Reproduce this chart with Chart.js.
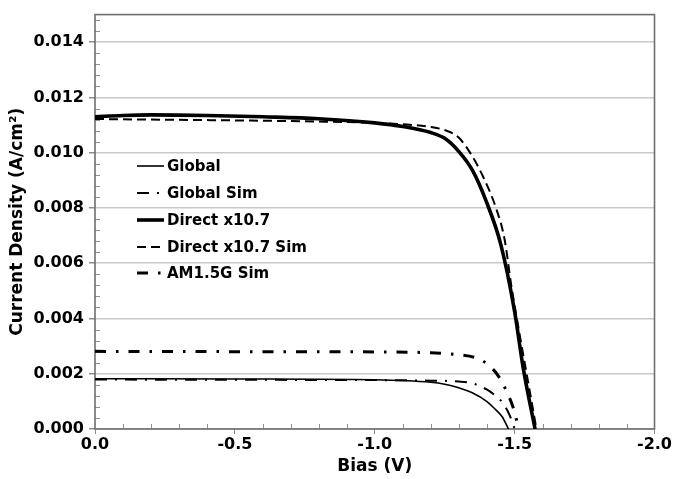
<!DOCTYPE html>
<html><head><meta charset="utf-8">
<script src="https://cdn.jsdelivr.net/npm/chart.js@4/dist/chart.umd.min.js"></script>
<style>html,body{margin:0;padding:0;background:#fff}#wrap{width:673px;height:479px}</style>
</head><body><div id="wrap"><canvas id="c" width="673" height="479"></canvas></div>
<script>
// ---- data ----
const seriesLabels = ['Global', 'Global Sim', 'Direct x10.7', 'Direct x10.7 Sim', 'AM1.5G Sim'];

const globalV = [0, -0.5, -1.0, -1.2, -1.25, -1.3, -1.35, -1.4, -1.43, -1.455, -1.478];
const globalJ = [0.00182, 0.00181, 0.00178, 0.00169, 0.00162, 0.00149, 0.00130, 0.00100, 0.00072, 0.00045, 0.0];

const globalSimV = [0, -0.5, -1.0, -1.2, -1.3, -1.35, -1.4, -1.43, -1.455, -1.475, -1.49, -1.5];
const globalSimJ = [0.00179, 0.00178, 0.00177, 0.00175, 0.00172, 0.00165, 0.00143, 0.00122, 0.00098, 0.00065, 0.00030, 0.0];

const directV = [0, -0.1, -0.2, -0.4, -0.6, -0.8, -1.0, -1.1, -1.2, -1.25, -1.3, -1.35, -1.4, -1.45, -1.5, -1.53, -1.573];
const directJ = [0.01130, 0.01135, 0.01137, 0.01135, 0.01130, 0.01123, 0.01108, 0.01095, 0.01073, 0.01052, 0.01005, 0.00935, 0.00820, 0.00670, 0.00425, 0.00225, 0.0];

const directSimV = [0, -0.2, -0.5, -0.8, -1.0, -1.1, -1.2, -1.256, -1.3, -1.339, -1.387, -1.435, -1.464, -1.488, -1.52, -1.55, -1.578];
const directSimJ = [0.01122, 0.01120, 0.01117, 0.01113, 0.01108, 0.01103, 0.01093, 0.01080, 0.01055, 0.01003, 0.00914, 0.00795, 0.00687, 0.00520, 0.00330, 0.00160, 0.0];

const am15V = [0, -0.5, -1.0, -1.2, -1.29, -1.36, -1.41, -1.445, -1.475, -1.494, -1.515];
const am15J = [0.00281, 0.00280, 0.00279, 0.00276, 0.00270, 0.00258, 0.00229, 0.00187, 0.00128, 0.00080, 0.0];

const xTicks = [0, -0.5, -1.0, -1.5, -2.0];
const xTickLabels = ['0.0', '-0.5', '-1.0', '-1.5', '-2.0'];
const yTicks = [0, 0.002, 0.004, 0.006, 0.008, 0.010, 0.012, 0.014];
const yTickLabels = ['0.000', '0.002', '0.004', '0.006', '0.008', '0.010', '0.012', '0.014'];

// ---- build ----
const pts = (V, J) => V.map((v, i) => ({x: v, y: J[i]}));
const FONT = '"DejaVu Sans", Verdana, sans-serif';

const styles = [
  {w: 1.6, dash: []},
  {w: 2, dash: [12, 8, 2, 8]},
  {w: 3.6, dash: []},
  {w: 2, dash: [9, 5]},
  {w: 3, dash: [11, 10, 2.5, 10]}
];
const seriesData = [pts(globalV, globalJ), pts(globalSimV, globalSimJ), pts(directV, directJ), pts(directSimV, directSimJ), pts(am15V, am15J)];

const datasets = seriesLabels.map((lab, i) => ({
  label: lab,
  data: seriesData[i],
  borderColor: '#000',
  backgroundColor: '#000',
  borderWidth: styles[i].w,
  borderDash: styles[i].dash,
  pointRadius: 0,
  fill: false,
  cubicInterpolationMode: 'monotone'
}));

const decor = {
  id: 'decor',
  beforeDatasetsDraw(chart) {
    const {ctx, chartArea: a, scales: {x, y}} = chart;
    ctx.save();
    ctx.strokeStyle = '#8c8c8c';
    ctx.lineWidth = 1;
    ctx.beginPath();
    for (let k = 1; k < 20; k++) {
      if (k % 5 === 0) continue;
      const px = Math.round(x.getPixelForValue(-k / 10)) + 0.5;
      ctx.moveTo(px, a.bottom); ctx.lineTo(px, a.bottom - 5);
    }
    for (let k = 1; k < 38; k++) {
      if (k % 5 === 0) continue;
      const py = Math.round(y.getPixelForValue(k * 0.0004)) + 0.5;
      ctx.moveTo(a.left, py); ctx.lineTo(a.left + 5, py);
    }
    ctx.stroke();
    ctx.strokeStyle = '#6e6e6e';
    ctx.lineWidth = 1.6;
    ctx.strokeRect(a.left, a.top, a.right - a.left, a.bottom - a.top);
    ctx.restore();
  },
  afterDatasetsDraw(chart) {
    const {ctx} = chart;
    ctx.save();
    const x0 = 137, x1 = 164, tx = 167;
    const rows = [166, 193, 220, 247, 273];
    ctx.font = 'bold 15px ' + FONT;
    ctx.textBaseline = 'middle';
    ctx.fillStyle = '#000';
    chart.data.datasets.forEach((ds, i) => {
      const yy = rows[i];
      ctx.strokeStyle = '#000';
      ctx.lineWidth = ds.borderWidth;
      ctx.setLineDash(ds.borderDash);
      ctx.beginPath(); ctx.moveTo(x0, yy); ctx.lineTo(x1, yy); ctx.stroke();
      ctx.setLineDash([]);
      ctx.fillText(ds.label, tx, yy + 1);
    });
    ctx.restore();
  }
};

new Chart(document.getElementById('c'), {
  type: 'line',
  data: {datasets},
  plugins: [decor],
  options: {
    responsive: false,
    animation: false,
    devicePixelRatio: 1,
    layout: {padding: {top: 10, right: 18, left: 0, bottom: 0}},
    plugins: {legend: {display: false}, tooltip: {enabled: false}},
    scales: {
      x: {
        type: 'linear', min: -2, max: 0, reverse: true,
        afterFit: s => { s.height = 50; },
        afterBuildTicks: s => { s.ticks = xTicks.map(v => ({value: v})); },
        ticks: {
          font: {family: FONT, size: 16, weight: 'bold'}, color: '#000', padding: 1,
          maxRotation: 0, autoSkip: false,
          callback: v => xTickLabels[xTicks.indexOf(v)] ?? ''
        },
        grid: {drawOnChartArea: false, drawTicks: true, tickLength: 5, tickColor: '#8c8c8c'},
        border: {display: false},
        title: {display: true, text: 'Bias (V)', color: '#000',
          font: {family: FONT, size: 17, weight: 'bold'}, padding: {top: 0, bottom: 2}}
      },
      y: {
        type: 'linear', min: 0, max: 0.015,
        afterFit: s => { s.width = 95; },
        afterBuildTicks: s => { s.ticks = yTicks.map(v => ({value: v})); },
        ticks: {
          font: {family: FONT, size: 16, weight: 'bold'}, color: '#000', padding: 5,
          autoSkip: false,
          callback: v => { const i = yTicks.findIndex(t => Math.abs(t - v) < 1e-9); return i >= 0 ? yTickLabels[i] : ''; }
        },
        grid: {color: '#c8c8c8', lineWidth: 1.5, drawTicks: true, tickLength: 6, tickColor: '#8c8c8c'},
        border: {display: false},
        title: {display: true, text: 'Current Density (A/cm²)', color: '#000',
          font: {family: FONT, size: 17, weight: 'bold'}, padding: {top: 7, bottom: 0}}
      }
    }
  }
});
</script>
</body></html>
